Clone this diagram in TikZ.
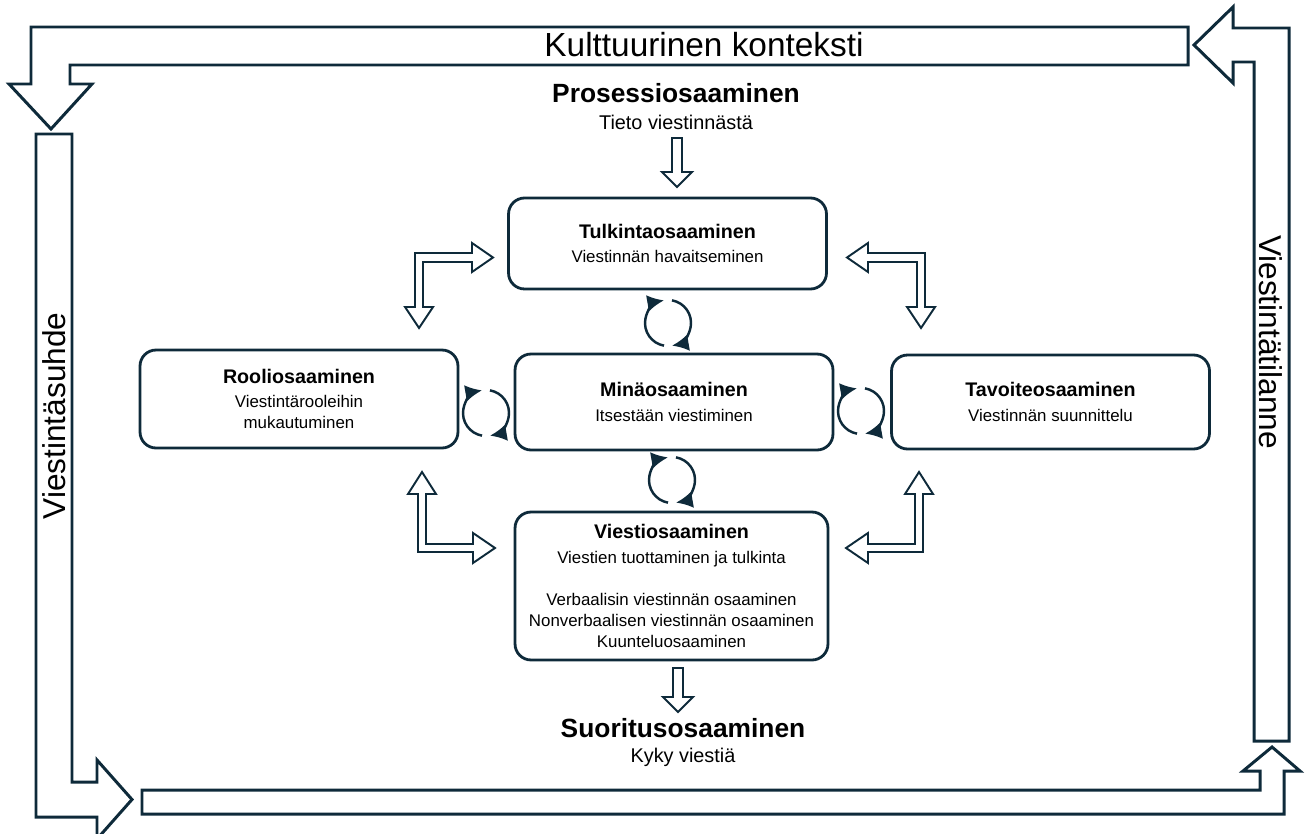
\documentclass[tikz,border=0pt]{standalone}
\usepackage{fontspec}
\setmainfont{Liberation Sans}
\usetikzlibrary{arrows.meta, positioning}
\definecolor{navy}{HTML}{0E2A3A}
\newcommand{\osaotsikko}[1]{{\fontsize{11.2}{13.4}\selectfont\bfseries #1}}
\newcommand{\kiertonuolet}[2]{%
  \draw[kierto] (#1,#2) ++(100:23) arc[start angle=100, end angle=260, radius=23];
  \draw[kierto] (#1,#2) ++(280:23) arc[start angle=280, end angle=440, radius=23];
}

\begin{document}
\begin{tikzpicture}[x=0.02cm, y=-0.02cm,
  kehys/.style={draw=navy, line width=1.7pt, fill=white, line join=miter},
  osa/.style={draw=navy, line width=1.6pt, rounded corners=0.32cm, align=center,
    minimum width=6.36cm, font=\fontsize{9.6}{12}\selectfont},
  ontto/.style={draw=navy, line width=1.1pt, line join=miter},
  kierto/.style={draw=navy, line width=1.4pt, -{Latex[length=9.5pt,width=9.5pt]}},
  iso/.style={font=\fontsize{18}{20}\selectfont},
  otsikko/.style={font=\fontsize{15}{17}\selectfont\bfseries},
  ala/.style={font=\fontsize{11.3}{13}\selectfont}]
\useasboundingbox (0,0) rectangle (1307,834);

\draw[kehys] (1188,27) -- (31,27) -- (31,84) -- (9,84) -- (51,129) -- (92,84) -- (70,84) -- (70,65) -- (1188,65) -- cycle;
\draw[kehys] (36,134) -- (72,134) -- (72,782) -- (97,782) -- (97,760) -- (132,799.5) -- (97,839) -- (97,817) -- (36,817) -- cycle;
\draw[kehys] (142,790) -- (1260,790) -- (1260,771) -- (1243,771) -- (1272,747) -- (1300,771) -- (1284,771) -- (1284,814) -- (142,814) -- cycle;
\draw[kehys] (1254,741) -- (1254,62) -- (1233,62) -- (1233,83) -- (1194,45) -- (1233,7) -- (1233,28) -- (1289,28) -- (1289,741) -- cycle;

\node[iso, font=\fontsize{19}{21}\selectfont] (konteksti) at (704,45) {Kulttuurinen konteksti};
\node[iso, rotate=90] (suhde) at (54,416) {Viestintäsuhde};
\node[iso, rotate=-90] (tilanne) at (1271,342) {Viestintätilanne};

\node[otsikko] (prosessi) at (676,93) {Prosessiosaaminen};
\node[ala] (tieto) at (676,122) {Tieto viestinnästä};
\node[otsikko] (suoritus) at (683,728) {Suoritusosaaminen};
\node[ala] (kyky) at (683,757) {Kyky viestiä};

\node[osa, minimum height=1.82cm] (tulkinta) at (667.5,243.5) {\osaotsikko{Tulkintaosaaminen}\\[2pt] Viestinnän havaitseminen};
\node[osa, minimum height=1.92cm] (mina) at (674,402) {\osaotsikko{Minäosaaminen}\\[2pt] Itsestään viestiminen};
\node[osa, minimum height=1.96cm] (rooli) at (299,399) {\osaotsikko{Rooliosaaminen}\\[2pt] Viestintärooleihin\\ mukautuminen};
\node[osa, minimum height=1.88cm] (tavoite) at (1050.5,402) {\osaotsikko{Tavoiteosaaminen}\\[2pt] Viestinnän suunnittelu};
\node[osa, minimum width=6.26cm, minimum height=2.96cm] (viesti) at (671.5,586) {\osaotsikko{Viestiosaaminen}\\[2pt] Viestien tuottaminen ja tulkinta\\[12pt] Verbaalisin viestinnän osaaminen\\ Nonverbaalisen viestinnän osaaminen\\ Kuunteluosaaminen};

\draw[ontto] (672,138) -- (682,138) -- (682,172) -- (692,172) -- (677,187) -- (662,172) -- (672,172) -- cycle;
\draw[ontto] (673,668) -- (683,668) -- (683,697) -- (693,697) -- (678,712) -- (663,697) -- (673,697) -- cycle;
\draw[ontto] (423,307) -- (423,262) -- (472,262) -- (472,272) -- (493,257.5) -- (472,243) -- (472,253) -- (415,253) -- (415,307) -- (405,307) -- (419,328) -- (433,307) -- cycle;
\draw[ontto] (917,307) -- (917,262) -- (868,262) -- (868,272) -- (847,257.5) -- (868,243) -- (868,253) -- (925,253) -- (925,307) -- (935,307) -- (921,328) -- (907,307) -- cycle;
\draw[ontto] (418,494) -- (408,494) -- (422,472) -- (436,494) -- (426,494) -- (426,544) -- (473,544) -- (473,533) -- (495,548) -- (473,563) -- (473,552) -- (418,552) -- cycle;
\draw[ontto] (923,494) -- (933,494) -- (919,472) -- (905,494) -- (915,494) -- (915,544) -- (868,544) -- (868,533) -- (846,548) -- (868,563) -- (868,552) -- (923,552) -- cycle;

\kiertonuolet{668}{323}
\kiertonuolet{486}{413}
\kiertonuolet{861}{411}
\kiertonuolet{672}{480}
\end{tikzpicture}
\end{document}
